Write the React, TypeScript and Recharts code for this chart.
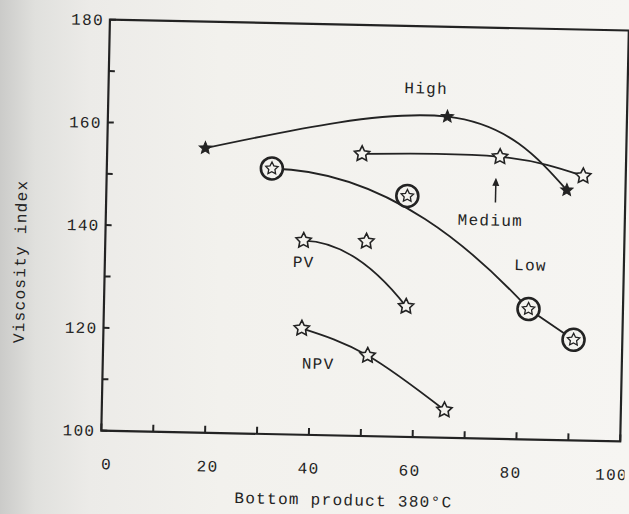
import React from "react";
import {
  ComposedChart, Line, Scatter, XAxis, YAxis, ReferenceArea, ReferenceLine, Label,
} from "recharts";

// values
const highX = [18.9, 65.4, 88.7];
const highY = [155.4, 162.5, 148.7];
const mediumX = [49.1, 75.7, 91.8];
const mediumY = [154.9, 154.9, 151.5];
const lowX = [31.8, 81.8, 90.6];
const lowY = [151.7, 125.4, 119.6];
const pvX = [38.2, 58.2];
const pvY = [137.8, 125.4];
const npvX = [38.2, 51.0, 66.0];
const npvY = [120.7, 115.7, 105.4];
const strayStarX = [50.3];
const strayStarY = [137.9];
const strayCircleX = [58.0];
const strayCircleY = [146.9];

const xTicks = [0, 10, 20, 30, 40, 50, 60, 70, 80, 90, 100];
const yTicks = [100, 110, 120, 130, 140, 150, 160, 170, 180];

const curveNames = ["High", "Medium", "Low", "PV", "NPV"];
const nameX = [61.2, 74.1, 82.0, 38.3, 41.5];
const nameY = [168.0, 142.6, 134.0, 133.7, 114.0];

// arrow from "Medium" up to its curve
const arrowX = 75.0;
const arrowFrom = 146.0;
const arrowTo = 150.4;

const zip = (xs: number[], ys: number[]) => xs.map((x, i) => ({ x, y: ys[i] }));
const highData = zip(highX, highY);
const mediumData = zip(mediumX, mediumY);
const lowData = zip(lowX, lowY);
const pvData = zip(pvX, pvY);
const npvData = zip(npvX, npvY);
const strayStars = zip(strayStarX, strayStarY);
const strayCircles = zip(strayCircleX, strayCircleY);
const nameData = curveNames.map((text, i) => ({ x: nameX[i], y: nameY[i], text }));
const arrowHead = [{ x: arrowX, y: arrowTo }];

const INK = "#232323";
const PAPER = "#f4f3ef";
const FONT = "'Liberation Mono', 'DejaVu Sans Mono', monospace";
const textStyle = { fontFamily: FONT, fontSize: 16, letterSpacing: 1.3, fill: INK };

function starPath(cx: number, cy: number, R: number, ratio = 0.5) {
  let d = "";
  for (let i = 0; i < 10; i++) {
    const rad = i % 2 === 0 ? R : R * ratio;
    const a = -Math.PI / 2 + (i * Math.PI) / 5;
    d += (i === 0 ? "M" : "L") + (cx + rad * Math.cos(a)).toFixed(2) + "," + (cy + rad * Math.sin(a)).toFixed(2);
  }
  return d + "Z";
}

// hand-drawn bow: leaves the first point level, bends down into the next, then straight
function bowCurve(context: any) {
  let pts: number[][] = [];
  return {
    areaStart() {},
    areaEnd() {},
    lineStart() { pts = []; },
    point(x: number, y: number) { pts.push([+x, +y]); },
    lineEnd() {
      if (!pts.length) return;
      context.moveTo(pts[0][0], pts[0][1]);
      for (let i = 1; i < pts.length; i++) {
        const [x0, y0] = pts[i - 1];
        const [x1, y1] = pts[i];
        if (i === 1) {
          const dx = x1 - x0, dy = y1 - y0;
          context.bezierCurveTo(x0 + 0.45 * dx, y0, x1 - 0.2 * dx, y1 - 0.4 * dy, x1, y1);
        } else {
          context.lineTo(x1, y1);
        }
      }
    },
  };
}

const filledStar = (p: any) => (
  <path key={`f${p.index}`} d={starPath(p.cx, p.cy, 6.5, 0.45)} fill={INK} stroke={INK} strokeWidth={1} />
);
const openStar = (p: any) => (
  <path key={`o${p.index}`} d={starPath(p.cx, p.cy, 8)} fill={PAPER} stroke={INK} strokeWidth={1.6} />
);
const circledStar = (p: any) => (
  <g key={`c${p.index}`}>
    <circle cx={p.cx} cy={p.cy} r={11} fill={PAPER} stroke={INK} strokeWidth={2.6} />
    <path d={starPath(p.cx, p.cy, 6.5)} fill="none" stroke={INK} strokeWidth={1.3} />
  </g>
);

const XTick = (p: any) => {
  const v = p.payload.value;
  // the scanned labels drift inward toward both ends
  const nudge = 6 - 0.14 * v;
  return (
    <g>
      <line x1={p.x} x2={p.x} y1={p.y} y2={p.y - 7} stroke={INK} strokeWidth={2} />
      {v % 20 === 0 && (
        <text x={p.x + nudge} y={p.y + 33} dy="0.35em" textAnchor="middle" style={textStyle}>{v}</text>
      )}
    </g>
  );
};

const YTick = (p: any) => {
  const v = p.payload.value;
  return (
    <g>
      <line x1={p.x} x2={p.x + 6} y1={p.y} y2={p.y} stroke={INK} strokeWidth={2} />
      {v % 20 === 0 && (
        <text x={p.x - 6} y={p.y} dy="0.35em" textAnchor="end" style={textStyle}>{v}</text>
      )}
    </g>
  );
};

const XTitle = (p: any) => {
  const vb = p.viewBox || { x: 105, y: 435, width: 519 };
  return (
    <text x={vb.x + vb.width / 2 - 16} y={vb.y + 64} dy="0.35em" textAnchor="middle" style={textStyle}>
      Bottom product 380°C
    </text>
  );
};

const YTitle = (p: any) => {
  const vb = p.viewBox || { x: 45, y: 24, height: 411 };
  const cx = vb.x - 25;
  const cy = vb.y + vb.height / 2 + 38;
  return (
    <text x={cx} y={cy} dy="0.35em" textAnchor="middle" transform={`rotate(-90 ${cx} ${cy})`} style={textStyle}>
      Viscosity index
    </text>
  );
};

export default function App() {
  return (
    <div
      style={{
        position: "fixed", left: 0, top: 0, width: 629, height: 514, overflow: "hidden",
        background: "linear-gradient(to right, #cbcbc9 0px, #e0e0dd 35px, #ecebe8 90px, #f2f1ed 220px, #f6f5f2 629px)",
      }}
    >
      <div style={{ width: 629, height: 514, transform: "rotate(1.2deg)", transformOrigin: "314.5px 257px" }}>
        <ComposedChart width={629} height={514} margin={{ top: 24, right: 5, left: 45, bottom: 49 }}>
          <XAxis
            type="number" dataKey="x" domain={[0, 100]} ticks={xTicks} interval={0} height={30}
            axisLine={false} tickLine={false} tickSize={0} tickMargin={0} tick={XTick} allowDataOverflow
          >
            <Label content={XTitle} />
          </XAxis>
          <YAxis
            type="number" dataKey="y" domain={[100, 180]} ticks={yTicks} interval={0} width={60}
            axisLine={false} tickLine={false} tickSize={0} tickMargin={0} tick={YTick} allowDataOverflow
          >
            <Label content={YTitle} />
          </YAxis>
          <ReferenceArea x1={0} x2={100} y1={100} y2={180} fill="none" stroke={INK} strokeWidth={2.2} ifOverflow="visible" />

          <Line data={highData} dataKey="y" type="natural" stroke={INK} strokeWidth={1.8} dot={filledStar} activeDot={false} isAnimationActive={false} />
          <Line data={mediumData} dataKey="y" type="natural" stroke={INK} strokeWidth={1.8} dot={openStar} activeDot={false} isAnimationActive={false} />
          <Line data={lowData} dataKey="y" type={bowCurve as any} stroke={INK} strokeWidth={1.8} dot={circledStar} activeDot={false} isAnimationActive={false} />
          <Line data={pvData} dataKey="y" type={bowCurve as any} stroke={INK} strokeWidth={1.8} dot={openStar} activeDot={false} isAnimationActive={false} />
          <Line data={npvData} dataKey="y" type="natural" stroke={INK} strokeWidth={1.8} dot={openStar} activeDot={false} isAnimationActive={false} />

          <Scatter data={strayStars} shape={openStar} isAnimationActive={false} />
          <Scatter data={strayCircles} shape={circledStar} isAnimationActive={false} />

          <ReferenceLine segment={[{ x: arrowX, y: arrowFrom }, { x: arrowX, y: arrowTo }]} stroke={INK} strokeWidth={1.5} />
          <Scatter
            data={arrowHead}
            isAnimationActive={false}
            shape={(p: any) => (
              <path d={`M${p.cx},${p.cy - 2} L${p.cx - 3.5},${p.cy + 6} L${p.cx + 3.5},${p.cy + 6} Z`} fill={INK} />
            )}
          />
          <Scatter
            data={nameData}
            isAnimationActive={false}
            shape={(p: any) => (
              <text x={p.cx} y={p.cy} dy="0.35em" textAnchor="middle" style={textStyle}>{p.payload.text}</text>
            )}
          />
        </ComposedChart>
      </div>
    </div>
  );
}
